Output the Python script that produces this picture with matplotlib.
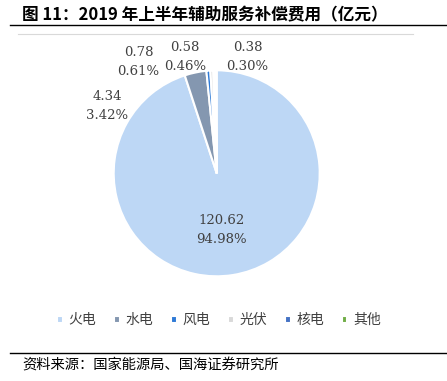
#2019年上半年辅助服务补偿费用饼图
import numpy as np
import matplotlib.pyplot as plt
from matplotlib.lines import Line2D

#基本配置
plt.rcParams['font.family'] = ['Noto Sans CJK SC', 'DejaVu Sans']
plt.rcParams['axes.unicode_minus'] = False

#数据
types = ['火电', '水电', '风电', '光伏', '核电', '其他']
fees = [120.62, 4.34, 0.78, 0.58, 0.38, 0.29]
shares = ['94.98%', '3.42%', '0.61%', '0.46%', '0.30%', '0.23%']
show_label = [True, True, True, True, True, False]
colors = ['#BDD7F5', '#8497B0', '#2E7AD6', '#D9D9D9', '#4472C4', '#70AD47']

#标签位置（饼图坐标，半径为1）
label_pos = [(0.05, -0.555), (-1.065, 0.655), (-0.76, 1.085),
             (-0.31, 1.125), (0.30, 1.125), (0.0, 0.0)]

fig = plt.figure(figsize=(4.47, 3.81), dpi=100)

#标题及分隔线
fig.text(22 / 447, 1 - 15 / 381, '图 11：2019 年上半年辅助服务补偿费用（亿元）',
         fontsize=12, fontweight='bold', va='center', ha='left', color='black')
fig.add_artist(Line2D([10 / 447, 1], [1 - 25 / 381] * 2, color='black', lw=1.0))
fig.add_artist(Line2D([18 / 447, 413 / 447], [1 - 34 / 381] * 2, color='#D9D9D9', lw=0.8))
fig.add_artist(Line2D([10 / 447, 1], [1 - 353 / 381] * 2, color='black', lw=1.0))
fig.text(22 / 447, 1 - 366 / 381, '资料来源：国家能源局、国海证券研究所',
         fontsize=10.3, va='center', ha='left', color='black')

#饼图
r_px = 103
ax = fig.add_axes([(216.7 - r_px) / 447, 1 - (173.3 + r_px) / 381,
                   2 * r_px / 447, 2 * r_px / 381])
wedges, _ = ax.pie(fees, colors=colors, startangle=90, counterclock=False,
                   radius=1, wedgeprops=dict(edgecolor='white', linewidth=1.5))
ax.set_xlim(-1, 1)
ax.set_ylim(-1, 1)
ax.set_aspect('equal')
ax.axis('off')

for v, s, show, (x, y) in zip(fees, shares, show_label, label_pos):
    if show:
        ax.text(x, y, '%.2f\n%s' % (v, s), ha='center', va='center',
                fontsize=9.5, color='#404040', linespacing=1.6,
                family=['DejaVu Serif'], clip_on=False)

#图例
fig.legend(wedges, types, loc='center', bbox_to_anchor=(0.49, 1 - 320 / 381),
           ncol=6, frameon=False, fontsize=10, labelcolor='#404040',
           handlelength=0.4, handleheight=0.4, handletextpad=0.4,
           columnspacing=1.3)

plt.savefig('out.png', dpi=100)
